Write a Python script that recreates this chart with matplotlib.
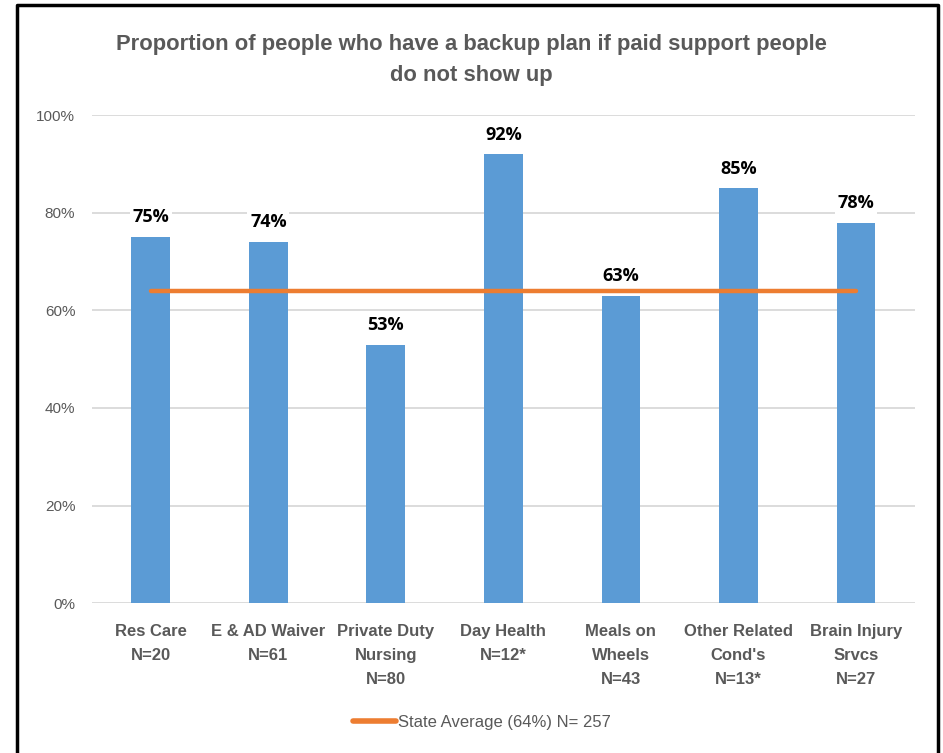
import matplotlib.pyplot as plt
from matplotlib.lines import Line2D
from matplotlib.ticker import PercentFormatter

categories = ["Res Care\nN=20", "E & AD Waiver\nN=61", "Private Duty\nNursing\nN=80",
              "Day Health\nN=12*", "Meals on\nWheels\nN=43", "Other Related\nCond's\nN=13*",
              "Brain Injury\nSrvcs\nN=27"]
values = [75, 74, 53, 92, 63, 85, 78]
state_avg = 64
avg_label = "State Average (64%) N= 257"
title = "Proportion of people who have a backup plan if paid support people\ndo not show up"

plt.rcParams["font.family"] = ["Liberation Sans", "DejaVu Sans"]
bar_col = "#5B9BD5"
line_col = "#ED7D31"
grey = "#595959"

fig = plt.figure(figsize=(9.43, 7.53), dpi=100)
ax = fig.add_axes([0.0976, 0.199, 0.8724, 0.648])

x = range(len(categories))
ax.bar(x, values, width=0.33, color=bar_col, zorder=2)
ax.plot([0, len(categories) - 1], [state_avg] * 2, color=line_col, lw=3.2,
        solid_capstyle="round", zorder=3, label=avg_label)

for i, v in enumerate(values):
    ax.text(i, v + 2.2, f"{v}%", ha="center", va="bottom", fontsize=13,
            fontweight="bold", color="black", family=["Open Sans", "DejaVu Sans"],
            bbox=dict(facecolor="white", edgecolor="none", pad=2), zorder=4)

ax.set_xlim(-0.5, len(categories) - 0.5)
ax.set_ylim(0, 100)
ax.set_yticks(range(0, 101, 20))
ax.yaxis.set_major_formatter(PercentFormatter(decimals=0))
ax.set_xticks(list(x))
ax.set_xticklabels(categories, fontsize=12, fontweight="bold", color=grey,
                   linespacing=1.75)
ax.tick_params(axis="y", labelsize=11, colors=grey, length=0, pad=12)
ax.tick_params(axis="x", length=0, pad=15)
ax.grid(axis="y", color="#D9D9D9", lw=1.3, zorder=0)
for s in ax.spines.values():
    s.set_visible(False)

fig.suptitle(title, y=0.955, fontsize=15.8, fontweight="bold", color=grey,
             linespacing=1.65)

leg = fig.legend(handles=[Line2D([], [], color=line_col, lw=4, solid_capstyle="round")],
                 labels=[avg_label], loc="center", bbox_to_anchor=(0.511, 0.041),
                 frameon=False, fontsize=12, handlelength=2.6, handletextpad=0.1)
for t in leg.get_texts():
    t.set_color(grey)

# frame around the chart (no bottom edge)
fig.add_artist(Line2D([0.018, 0.018, 0.9945, 0.9945], [0.0, 0.9935, 0.9935, 0.0],
                      color="black", lw=2.5, transform=fig.transFigure))

fig.savefig("out.png", dpi=100)
